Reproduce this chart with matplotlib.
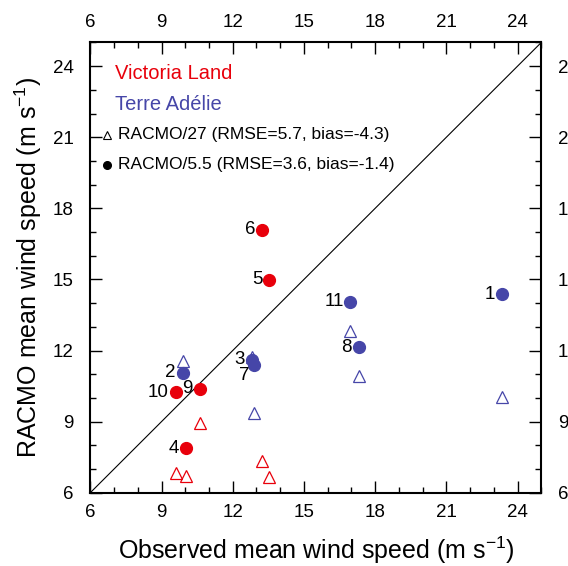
import matplotlib
matplotlib.use("Agg")
import matplotlib.pyplot as plt
from matplotlib.ticker import MultipleLocator

plt.rcParams["font.family"] = ["Liberation Sans", "DejaVu Sans"]
plt.rcParams["mathtext.fontset"] = "custom"
plt.rcParams["mathtext.rm"] = "Liberation Sans"

# station number, observed, RACMO/5.5, RACMO/27
stations = ["1", "2", "3", "4", "5", "6", "7", "8", "9", "10", "11"]
observed = [23.33, 9.89, 12.80, 10.02, 13.54, 13.24, 12.90, 17.30, 10.61, 9.59, 16.94]
racmo_55 = [14.38, 11.06, 11.60, 7.88, 14.98, 17.10, 11.40, 12.13, 10.38, 10.23, 14.06]
racmo_27 = [10.02, 11.55, 11.73, 6.71, 6.65, 7.33, 9.35, 10.93, 8.95, 6.84, 12.83]
region = ["TA", "TA", "TA", "VL", "VL", "VL", "TA", "TA", "VL", "VL", "TA"]

red = "#e8000b"
blue = "#4646a8"
colors = {"VL": red, "TA": blue}

# label offsets (points) relative to the filled dot
label_offsets = {"7": (-3, -8), "11": (-4, 0)}

fig = plt.figure(figsize=(5.68, 5.66), dpi=100)
ax = fig.add_axes([0.159, 0.1295, 0.794, 0.7955])

ax.plot([6, 25], [6, 25], color="black", lw=0.8)

for i, name in enumerate(stations):
    c = colors[region[i]]
    ax.plot(observed[i], racmo_27[i], marker="^", ms=8.5, mfc="none", mec=c, mew=0.9,
            linestyle="none", zorder=3)
for i, name in enumerate(stations):
    c = colors[region[i]]
    ax.plot(observed[i], racmo_55[i], marker="o", ms=8.5, color=c, mec=c,
            linestyle="none", zorder=4)
    dx, dy = label_offsets.get(name, (-5, 0))
    ax.annotate(name, (observed[i], racmo_55[i]), xytext=(dx, dy), textcoords="offset points",
                ha="right", va="center", fontsize=13.5, zorder=5)

ax.set_xlim(6, 25)
ax.set_ylim(6, 25)
for axis in (ax.xaxis, ax.yaxis):
    axis.set_major_locator(MultipleLocator(3))
    axis.set_minor_locator(MultipleLocator(1))
ax.tick_params(which="both", direction="in", top=True, right=True,
               labeltop=True, labelright=True, labelsize=13.5, width=1.0)
ax.tick_params(which="major", length=8.5)
ax.tick_params(which="minor", length=4.5)
ax.tick_params(axis="x", which="major", pad=8)
ax.tick_params(axis="y", which="major", pad=12)
for s in ax.spines.values():
    s.set_linewidth(1.5)

ax.set_xlabel(r"Observed mean wind speed (m s$^{\mathregular{-1}}$)", fontsize=18, labelpad=10)
ax.set_ylabel(r"RACMO mean wind speed (m s$^{\mathregular{-1}}$)", fontsize=18, labelpad=6)

# legend drawn as text
ax.text(0.055, 0.93, "Victoria Land", color=red, fontsize=14.5, transform=ax.transAxes,
        va="center", ha="left")
ax.text(0.055, 0.862, "Terre Adélie", color=blue, fontsize=14.5, transform=ax.transAxes,
        va="center", ha="left")
ax.plot(0.037, 0.795, marker="^", ms=5.5, mfc="none", mec="black", mew=0.8,
        transform=ax.transAxes, clip_on=False)
ax.text(0.062, 0.795, "RACMO/27 (RMSE=5.7, bias=-4.3)", fontsize=12.5, transform=ax.transAxes,
        va="center", ha="left")
ax.plot(0.037, 0.728, marker="o", ms=5.5, color="black", transform=ax.transAxes, clip_on=False)
ax.text(0.062, 0.728, "RACMO/5.5 (RMSE=3.6, bias=-1.4)", fontsize=12.5, transform=ax.transAxes,
        va="center", ha="left")

fig.savefig("out.png", dpi=100)
